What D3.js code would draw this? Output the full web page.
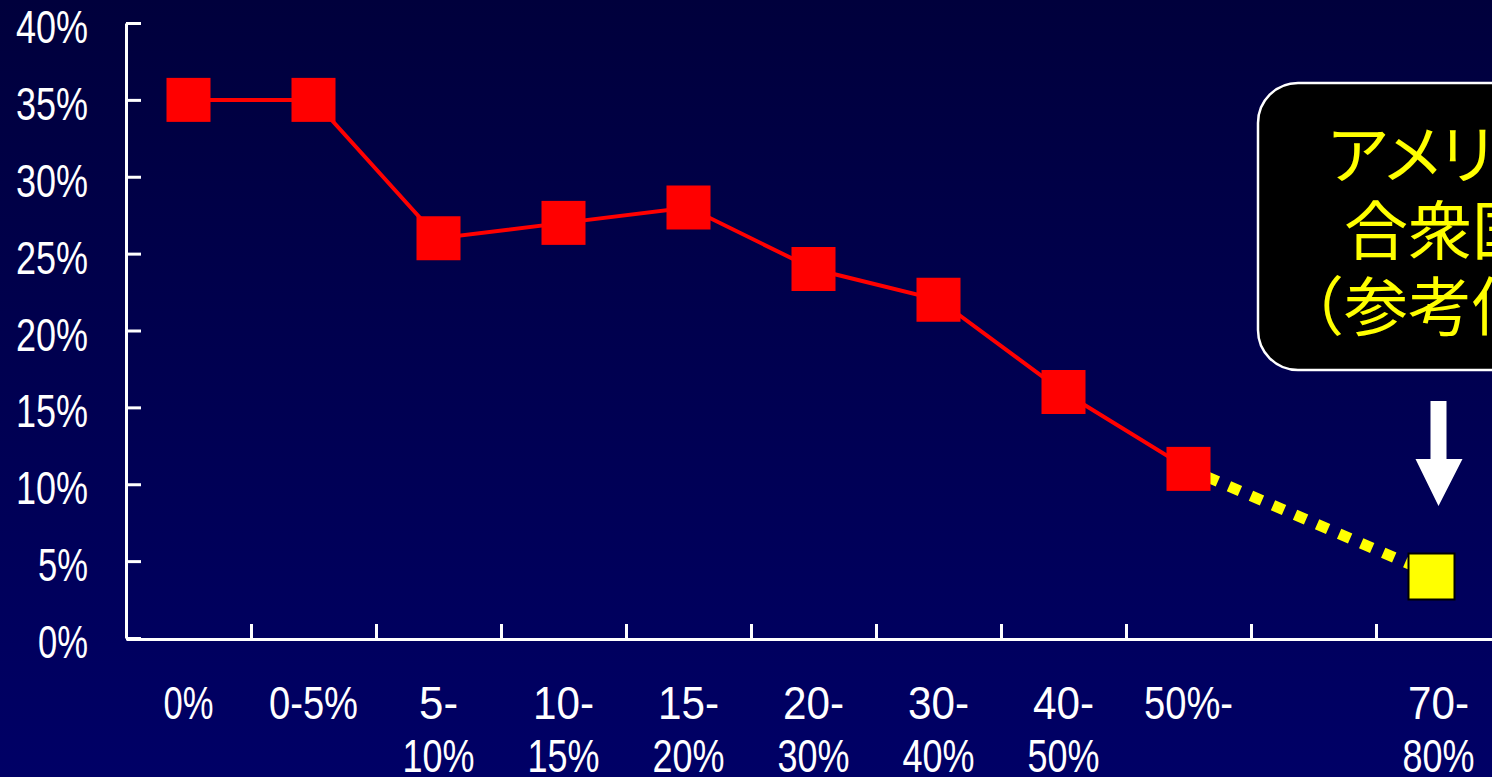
<!DOCTYPE html>
<html>
<head>
<meta charset="utf-8">
<script src="https://cdn.jsdelivr.net/npm/d3@7"></script>
<style>
  html, body { margin: 0; padding: 0; background: #000050; }
  svg { display: block; }
</style>
</head>
<body>
<svg id="chart" width="1492" height="777"></svg>
<script>
// categories (index 9 is an empty slot, no data)
const categories = [["0%"], ["0-5%"], ["5-", "10%"], ["10-", "15%"], ["15-", "20%"],
  ["20-", "30%"], ["30-", "40%"], ["40-", "50%"], ["50%-"], [""], ["70-", "80%"]];
const mainValues = [35, 35, 26, 27, 28, 24, 22, 16, 11];   // red series, index 0..8
const refIndex = 10;
const refValue = 4;                                          // yellow reference point
const yTicks = [0, 5, 10, 15, 20, 25, 30, 35, 40];
const calloutLines = ["アメリカ", "合衆国", "（参考値）"];

const svg = d3.select('#chart');
const width = 1492, height = 777;

// background gradient
const defs = svg.append('defs');
const grad = defs.append('linearGradient').attr('id', 'bg').attr('x1', 0).attr('y1', 0).attr('x2', 0).attr('y2', 1);
grad.append('stop').attr('offset', '0%').attr('stop-color', '#00003c');
grad.append('stop').attr('offset', '100%').attr('stop-color', '#000066');
svg.append('rect').attr('width', width).attr('height', height).attr('fill', 'url(#bg)');

// scales
let x = d3.scaleLinear().domain([0, categories.length]).range([126, 126 + 125 * categories.length]);
let y = d3.scaleLinear().domain([0, 40]).range([638, 23]);
let cx = i => x(i + 0.5);

// rough glyph widths so the text looks like the narrow original
function textWidth(s) {
  let w = 0;
  for (const c of s) w += (c === '%') ? 28 : (c === '-') ? 17 : 22;
  return w;
}
const font = '"Liberation Sans", Arial, sans-serif';

// y axis
let yAxis = svg.append('g')
  .attr('transform', `translate(${x(0)},0)`)
  .call(d3.axisLeft(y).tickValues(yTicks).tickSizeInner(-15).tickSizeOuter(0).tickFormat(''));
yAxis.select('.domain').attr('stroke', '#fff').attr('stroke-width', 3);
yAxis.selectAll('.tick line').attr('stroke', '#fff').attr('stroke-width', 3);

svg.append('g').selectAll('text')
  .data(yTicks)
  .join('text')
  .attr('x', 88)
  .attr('y', d => y(d) + 20)
  .attr('text-anchor', 'end')
  .attr('fill', '#fff')
  .style('font-family', font)
  .style('font-size', '46px')
  .attr('textLength', d => textWidth(d + '%'))
  .attr('lengthAdjust', 'spacingAndGlyphs')
  .text(d => d + '%');

// x axis
let xAxis = svg.append('g')
  .attr('transform', `translate(0,${y(0) + 1})`)
  .call(d3.axisBottom(x).tickValues(d3.range(1, categories.length)).tickSizeInner(-15).tickSizeOuter(0).tickFormat(''));
xAxis.select('.domain').attr('stroke', '#fff').attr('stroke-width', 3);
xAxis.selectAll('.tick line').attr('stroke', '#fff').attr('stroke-width', 3);

let xLabels = svg.append('g').selectAll('g')
  .data(categories)
  .join('g');
xLabels.selectAll('text')
  .data((d, i) => d.map((line, k) => ({ line, k, i })))
  .join('text')
  .attr('x', d => cx(d.i))
  .attr('y', d => 719 + d.k * 53)
  .attr('text-anchor', 'middle')
  .attr('fill', '#fff')
  .style('font-family', font)
  .style('font-size', '46px')
  .attr('textLength', d => d.line ? textWidth(d.line) : null)
  .attr('lengthAdjust', 'spacingAndGlyphs')
  .text(d => d.line);

// dotted connector to reference point
const lastIdx = mainValues.length - 1;
svg.append('line')
  .attr('x1', cx(lastIdx)).attr('y1', y(mainValues[lastIdx]))
  .attr('x2', cx(refIndex)).attr('y2', y(refValue))
  .attr('stroke', '#ffff00')
  .attr('stroke-width', 11)
  .attr('stroke-dasharray', '12 12')
  .attr('stroke-dashoffset', -20);

// red line
let line = d3.line().x((d, i) => cx(i)).y(d => y(d));
svg.append('path')
  .datum(mainValues)
  .attr('d', line)
  .attr('fill', 'none')
  .attr('stroke', '#ff0000')
  .attr('stroke-width', 4);

svg.append('g').selectAll('rect')
  .data(mainValues)
  .join('rect')
  .attr('x', (d, i) => cx(i) - 22)
  .attr('y', d => y(d) - 22)
  .attr('width', 44)
  .attr('height', 44)
  .attr('fill', '#ff0000');

// yellow reference square
svg.append('rect')
  .attr('x', cx(refIndex) - 30)
  .attr('y', y(refValue) - 23)
  .attr('width', 46)
  .attr('height', 46)
  .attr('fill', '#ffff00')
  .attr('stroke', '#000')
  .attr('stroke-width', 2);

// white arrow pointing at reference
const ax = cx(refIndex);
svg.append('path')
  .attr('d', `M${ax - 8},401 L${ax + 8},401 L${ax + 8},459 L${ax + 24},459 L${ax},506 L${ax - 23},459 L${ax - 8},459 Z`)
  .attr('fill', '#fff');

// callout box
svg.append('rect')
  .attr('x', 1258).attr('y', 83)
  .attr('width', 380).attr('height', 287)
  .attr('rx', 40).attr('ry', 40)
  .attr('fill', '#000')
  .attr('stroke', '#fff')
  .attr('stroke-width', 2.5);

svg.append('g').selectAll('text')
  .data(calloutLines)
  .join('text')
  .attr('x', 1440)
  .attr('y', (d, i) => 178 + i * 76)
  .attr('text-anchor', 'middle')
  .attr('fill', '#ffff00')
  .style('font-family', '"Noto Sans CJK JP", sans-serif')
  .style('font-size', '64px')
  .style('font-feature-settings', (d, i) => i === 0 ? '"palt"' : 'normal')
  .text(d => d);
</script>
</body>
</html>
